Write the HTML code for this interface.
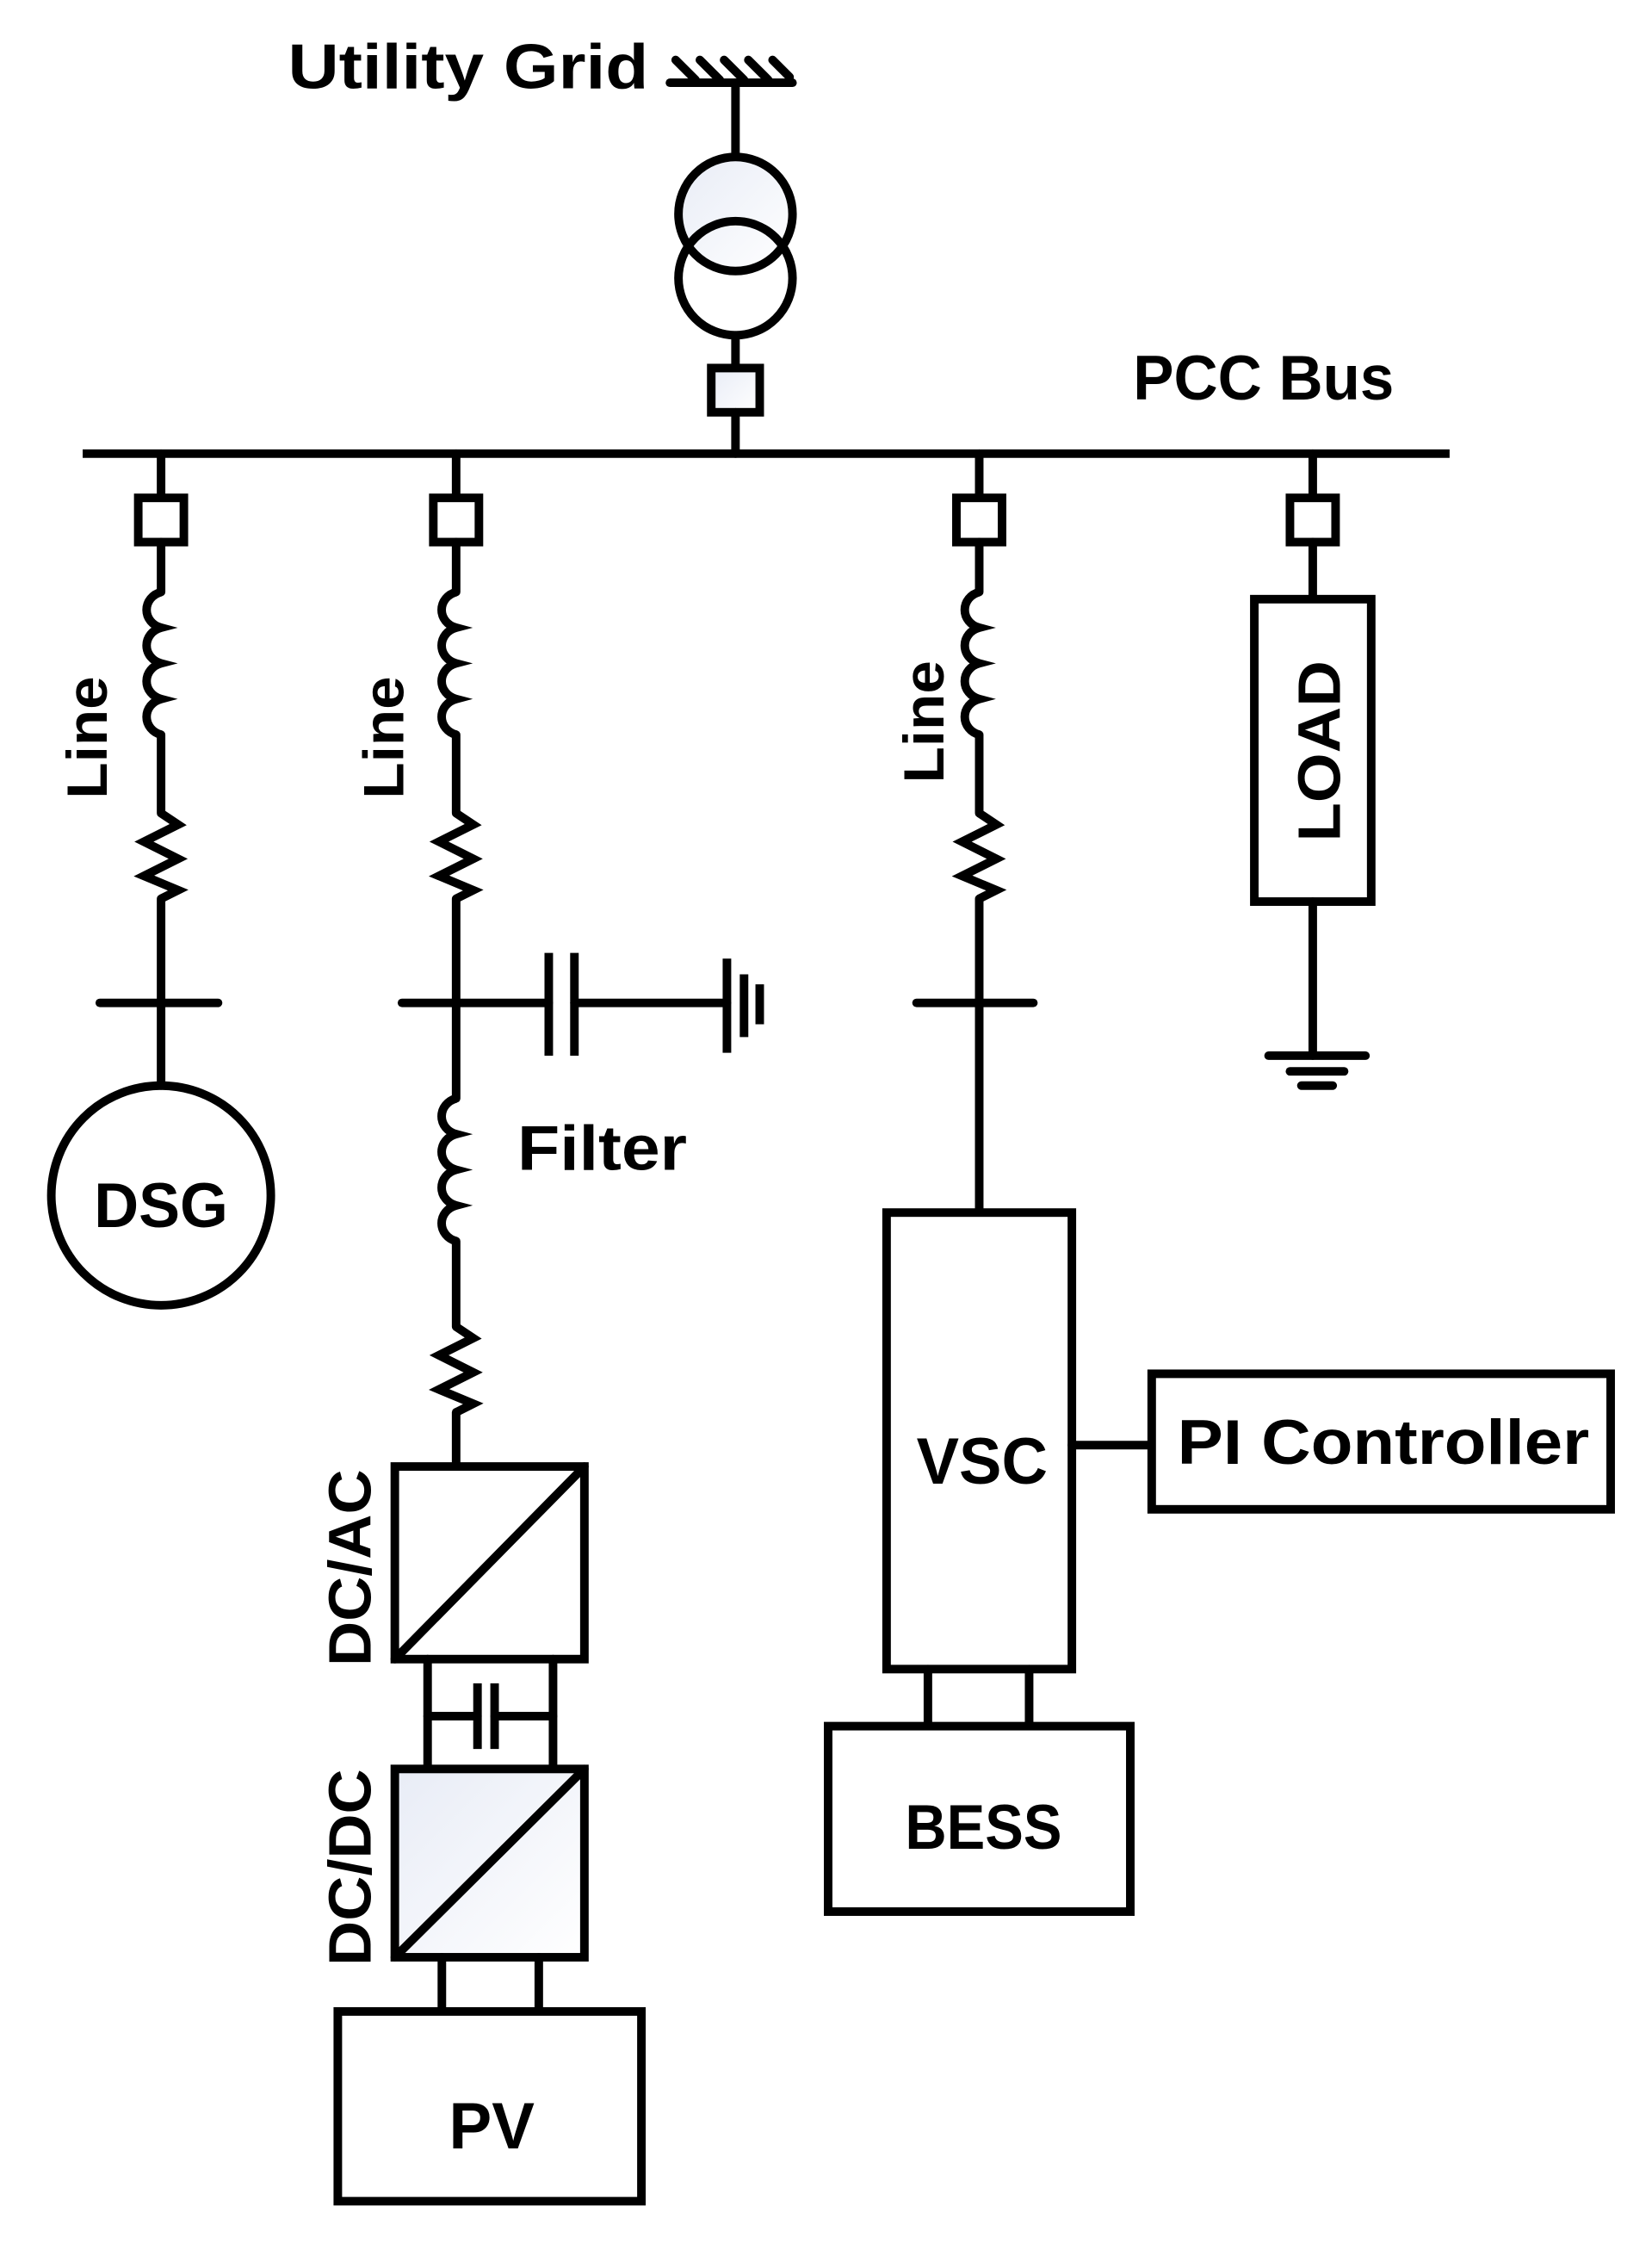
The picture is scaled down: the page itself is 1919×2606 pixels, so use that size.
<!DOCTYPE html>
<html><head><meta charset="utf-8"><style>
html,body{margin:0;padding:0;background:#fff;}
svg{display:block;}
text{font-family:"Liberation Sans",sans-serif;font-weight:bold;fill:#000;}
</style></head><body>
<svg width="1919" height="2606" viewBox="0 0 1159 1573" preserveAspectRatio="none" xmlns="http://www.w3.org/2000/svg">
<defs>
<linearGradient id="g" x1="0" y1="0" x2="1" y2="1"><stop offset="0" stop-color="#e8ecf6"/><stop offset="1" stop-color="#ffffff"/></linearGradient>
<g id="ind"><path d="M0 0 a14 13 0 0 0 0 25 a14 13 0 0 0 0 25 a14 13 0 0 0 0 25 a14 13 0 0 0 0 25" fill="none" stroke="#000" stroke-width="6"/></g>
<g id="res"><polyline points="0,0 12,8 -12,20 12,32 -12,44 12,54 0,60" fill="none" stroke="#000" stroke-width="6" stroke-linejoin="miter"/></g>
</defs>
<g stroke="#000" stroke-width="6" fill="none" stroke-linecap="round">
<line x1="470" y1="58" x2="556" y2="58"/>
<path d="M474 42 l14 14 M491 42 l14 14 M508 42 l14 14 M525 42 l14 14 M542 42 l12 12"/>
<line x1="516" y1="58" x2="516" y2="110"/>
<circle cx="516" cy="150" r="40" fill="url(#g)"/>
<circle cx="516" cy="195" r="40"/>
<line x1="516" y1="235" x2="516" y2="258"/>
<rect x="499" y="258" width="34" height="31" fill="url(#g)"/>
<line x1="516" y1="289" x2="516" y2="318"/>
<line x1="58" y1="318" x2="1017" y2="318" stroke-linecap="butt"/>
<line x1="113" y1="318" x2="113" y2="349"/>
<rect x="97" y="349" width="32" height="31" fill="#fff"/>
<line x1="113" y1="380" x2="113" y2="415"/>
<line x1="113" y1="515" x2="113" y2="570"/>
<line x1="113" y1="630" x2="113" y2="761"/>
<line x1="70" y1="703" x2="153" y2="703"/>
<circle cx="113" cy="838" r="77"/>
<line x1="320" y1="318" x2="320" y2="349"/>
<rect x="304" y="349" width="32" height="31" fill="#fff"/>
<line x1="320" y1="380" x2="320" y2="415"/>
<line x1="320" y1="515" x2="320" y2="570"/>
<line x1="320" y1="630" x2="320" y2="770"/>
<line x1="282" y1="703" x2="385" y2="703"/>
<line x1="385" y1="668" x2="385" y2="740" stroke-linecap="butt"/>
<line x1="403" y1="668" x2="403" y2="740" stroke-linecap="butt"/>
<line x1="403" y1="703" x2="510" y2="703"/>
<line x1="510" y1="672" x2="510" y2="738" stroke-linecap="butt"/>
<line x1="522" y1="683" x2="522" y2="727" stroke-linecap="butt"/>
<line x1="533" y1="690" x2="533" y2="718" stroke-linecap="butt"/>
<line x1="320" y1="870" x2="320" y2="930"/>
<line x1="320" y1="990" x2="320" y2="1028"/>
<rect x="277" y="1028" width="133" height="135" fill="#fff"/>
<line x1="277" y1="1163" x2="410" y2="1028"/>
<line x1="300" y1="1163" x2="300" y2="1240"/>
<line x1="388" y1="1163" x2="388" y2="1240"/>
<line x1="300" y1="1203" x2="335" y2="1203"/>
<line x1="347" y1="1203" x2="388" y2="1203"/>
<line x1="335" y1="1180" x2="335" y2="1226" stroke-linecap="butt"/>
<line x1="347" y1="1180" x2="347" y2="1226" stroke-linecap="butt"/>
<rect x="277" y="1240" width="133" height="132" fill="url(#g)"/>
<line x1="277" y1="1372" x2="410" y2="1240"/>
<line x1="310" y1="1372" x2="310" y2="1410"/>
<line x1="378" y1="1372" x2="378" y2="1410"/>
<rect x="237" y="1410" width="213" height="133" fill="#fff"/>
<line x1="687" y1="318" x2="687" y2="349"/>
<rect x="671" y="349" width="32" height="31" fill="#fff"/>
<line x1="687" y1="380" x2="687" y2="415"/>
<line x1="687" y1="515" x2="687" y2="570"/>
<line x1="687" y1="630" x2="687" y2="850"/>
<line x1="643" y1="703" x2="725" y2="703"/>
<rect x="622" y="850" width="130" height="320" fill="#fff"/>
<line x1="752" y1="1013" x2="808" y2="1013"/>
<rect x="808" y="963" width="322" height="95" fill="#fff"/>
<line x1="651" y1="1170" x2="651" y2="1210"/>
<line x1="722" y1="1170" x2="722" y2="1210"/>
<rect x="581" y="1210" width="212" height="130" fill="#fff"/>
<line x1="921" y1="318" x2="921" y2="349"/>
<rect x="905" y="349" width="32" height="31" fill="#fff"/>
<line x1="921" y1="380" x2="921" y2="420"/>
<rect x="880" y="420" width="82" height="212" fill="#fff"/>
<line x1="921" y1="632" x2="921" y2="740"/>
<line x1="890" y1="740" x2="958" y2="740"/>
<line x1="905" y1="751" x2="943" y2="751"/>
<line x1="913" y1="761" x2="935" y2="761"/>
</g>
<use href="#ind" x="113" y="415"/><use href="#res" x="113" y="570"/>
<use href="#ind" x="320" y="415"/><use href="#res" x="320" y="570"/>
<use href="#ind" x="320" y="770"/><use href="#res" x="320" y="930"/>
<use href="#ind" x="687" y="415"/><use href="#res" x="687" y="570"/>
<text x="202" y="62" font-size="44" textLength="253" lengthAdjust="spacingAndGlyphs">Utility Grid</text>
<text x="795" y="280" font-size="44" textLength="183" lengthAdjust="spacingAndGlyphs">PCC Bus</text>
<text x="363" y="820" font-size="44" textLength="119" lengthAdjust="spacingAndGlyphs">Filter</text>
<text x="66" y="860" font-size="44" textLength="94" lengthAdjust="spacingAndGlyphs">DSG</text>
<text x="643" y="1040" font-size="46" textLength="92" lengthAdjust="spacingAndGlyphs">VSC</text>
<text x="826" y="1026" font-size="44" textLength="289" lengthAdjust="spacingAndGlyphs">PI Controller</text>
<text x="635" y="1296" font-size="44" textLength="110" lengthAdjust="spacingAndGlyphs">BESS</text>
<text x="315" y="1506" font-size="46" textLength="60" lengthAdjust="spacingAndGlyphs">PV</text>
<text transform="translate(75,560) rotate(-90)" font-size="40" textLength="86" lengthAdjust="spacingAndGlyphs">Line</text>
<text transform="translate(283,560) rotate(-90)" font-size="40" textLength="86" lengthAdjust="spacingAndGlyphs">Line</text>
<text transform="translate(662,549) rotate(-90)" font-size="40" textLength="86" lengthAdjust="spacingAndGlyphs">Line</text>
<text transform="translate(940,590) rotate(-90)" font-size="42" textLength="127" lengthAdjust="spacingAndGlyphs">LOAD</text>
<text transform="translate(260,1168) rotate(-90)" font-size="42" textLength="138" lengthAdjust="spacingAndGlyphs">DC/AC</text>
<text transform="translate(260,1378) rotate(-90)" font-size="42" textLength="138" lengthAdjust="spacingAndGlyphs">DC/DC</text>
</svg>
</body></html>
